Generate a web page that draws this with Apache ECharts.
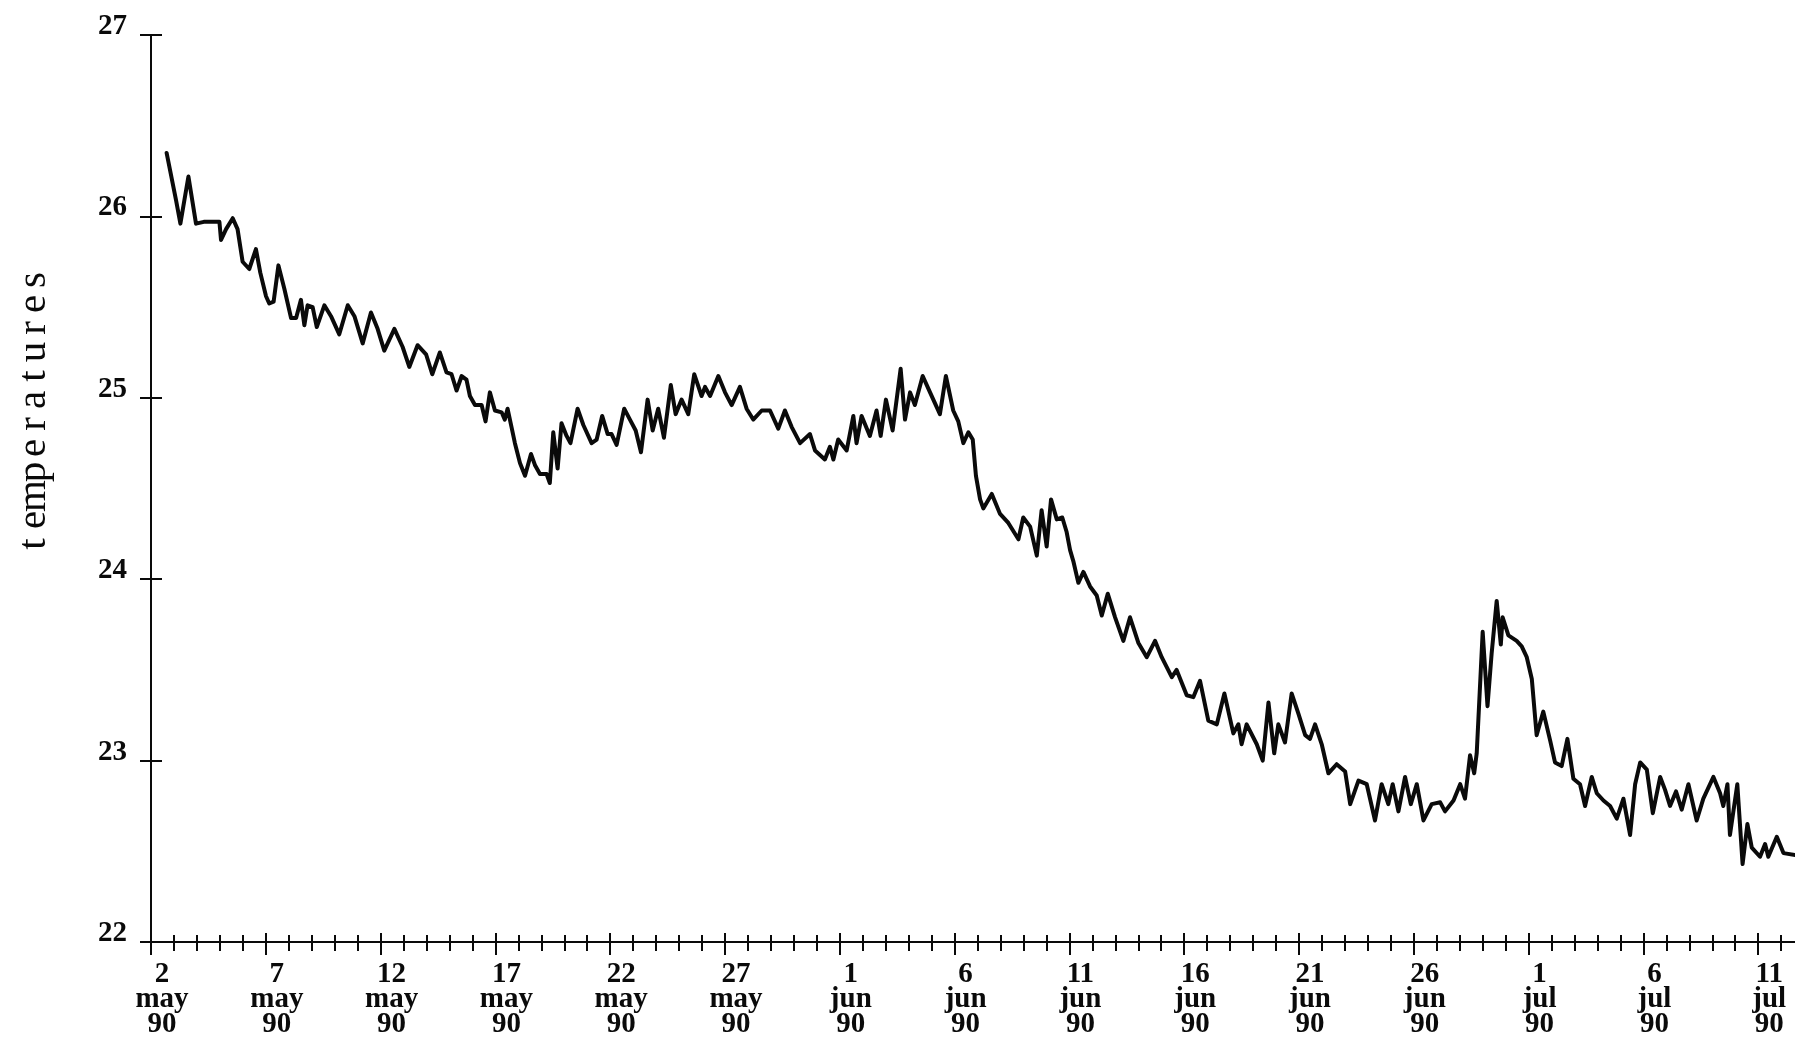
<!DOCTYPE html>
<html>
<head>
<meta charset="utf-8">
<script src="https://cdn.jsdelivr.net/npm/echarts@6/dist/echarts.min.js"></script>
<style>
  html, body { margin: 0; padding: 0; background: #fff; }
  #chart { width: 1795px; height: 1037px; }
</style>
</head>
<body>
<div id="chart"></div>
<script>
// Time is expressed in days since 2 May 1990, 00:00.
const mayDays = [0.68,1.09,1.28,1.63,1.96,2.30,2.65,2.98,3.05,3.27,3.56,3.77,3.99,4.28,4.57,4.76,5.01,5.15,5.34,5.55,5.81,6.10,6.32,6.53,6.68,6.82,7.04,7.22,7.55,7.84,8.20,8.57,8.86,9.22,9.58,9.87,10.16,10.60,10.96,11.25,11.61,11.98,12.25,12.58,12.87,13.09,13.31,13.53,13.74,13.89,14.11,14.40,14.57,14.76,14.98,15.27,15.41,15.53,15.70,15.85,16.07,16.29,16.55,16.72,16.94,17.23,17.37,17.52,17.71,17.88,18.10,18.27,18.58,18.83,19.19,19.41,19.65,19.89,20.06,20.28,20.61,20.86,21.11,21.34,21.63,21.85,22.09,22.34,22.64,22.85,23.11,23.40,23.66,23.98,24.13,24.35,24.71,25.00,25.29,25.65,25.94,26.23,26.60,26.96,27.32,27.61,27.90,28.27,28.70,28.92,29.35,29.57,29.72,29.93];
const mayTemps = [26.35,26.09,25.96,26.22,25.96,25.97,25.97,25.97,25.87,25.93,25.99,25.93,25.75,25.71,25.82,25.69,25.56,25.52,25.53,25.73,25.60,25.44,25.44,25.54,25.40,25.51,25.50,25.39,25.51,25.45,25.35,25.51,25.45,25.30,25.47,25.38,25.26,25.38,25.28,25.17,25.29,25.24,25.13,25.25,25.14,25.13,25.04,25.12,25.10,25.01,24.96,24.96,24.87,25.03,24.93,24.92,24.88,24.94,24.84,24.75,24.64,24.57,24.69,24.63,24.58,24.58,24.53,24.81,24.61,24.86,24.79,24.75,24.94,24.85,24.75,24.77,24.90,24.80,24.80,24.74,24.94,24.88,24.82,24.70,24.99,24.82,24.94,24.78,25.07,24.91,24.99,24.91,25.13,25.01,25.06,25.01,25.12,25.03,24.96,25.06,24.94,24.88,24.93,24.93,24.83,24.93,24.84,24.75,24.80,24.71,24.66,24.73,24.66,24.77];

const junDays = [30.30,30.59,30.73,30.95,31.31,31.60,31.78,32.01,32.30,32.65,32.84,33.06,33.27,33.61,33.93,34.36,34.62,34.94,35.16,35.38,35.60,35.79,35.93,36.11,36.25,36.62,36.98,37.34,37.78,37.99,38.29,38.58,38.79,39.01,39.20,39.45,39.69,39.88,40.03,40.17,40.39,40.61,40.90,41.19,41.41,41.67,41.99,42.35,42.64,43.00,43.37,43.73,44.02,44.46,44.67,45.11,45.40,45.69,46.05,46.42,46.75,47.14,47.36,47.50,47.72,48.16,48.42,48.67,48.92,49.10,49.39,49.68,49.97,50.27,50.48,50.70,50.99,51.28,51.64,52.01,52.23,52.59,52.95,53.31,53.60,53.89,54.08,54.33,54.62,54.87,55.13,55.42,55.78,56.15,56.36,56.73,57.02,57.23,57.45,57.63,57.74,58.00,58.21,58.39,58.61,58.79,58.87,59.12,59.48,59.70,59.92];
const junTemps = [24.71,24.90,24.75,24.90,24.79,24.93,24.79,24.99,24.82,25.16,24.88,25.03,24.96,25.12,25.03,24.91,25.12,24.93,24.87,24.75,24.81,24.77,24.57,24.44,24.39,24.47,24.36,24.31,24.22,24.34,24.29,24.13,24.38,24.18,24.44,24.33,24.34,24.26,24.16,24.10,23.98,24.04,23.96,23.91,23.80,23.92,23.79,23.66,23.79,23.65,23.57,23.66,23.57,23.46,23.50,23.36,23.35,23.44,23.22,23.20,23.37,23.15,23.20,23.09,23.20,23.09,23.00,23.32,23.04,23.20,23.10,23.37,23.26,23.14,23.12,23.20,23.09,22.93,22.98,22.94,22.76,22.89,22.87,22.67,22.87,22.76,22.87,22.72,22.91,22.76,22.87,22.67,22.76,22.77,22.72,22.78,22.87,22.79,23.03,22.93,23.04,23.71,23.30,23.59,23.88,23.64,23.79,23.69,23.66,23.63,23.57];

const julDays = [60.14,60.35,60.64,60.94,61.15,61.44,61.69,61.95,62.24,62.46,62.75,62.97,63.26,63.55,63.84,64.13,64.42,64.64,64.86,65.15,65.41,65.73,65.94,66.16,66.42,66.67,66.96,67.32,67.61,68.05,68.34,68.48,68.66,68.77,69.09,69.32,69.53,69.72,70.08,70.30,70.44,70.81,71.10,71.61];
const julTemps = [23.45,23.14,23.27,23.11,22.99,22.97,23.12,22.90,22.87,22.75,22.91,22.82,22.78,22.75,22.68,22.79,22.59,22.87,22.99,22.95,22.71,22.91,22.84,22.75,22.83,22.73,22.87,22.67,22.79,22.91,22.82,22.75,22.87,22.59,22.87,22.43,22.65,22.52,22.47,22.54,22.47,22.58,22.49,22.48];

// Date labels every 5 days along the time axis
const tickDayNums = ['2','7','12','17','22','27','1','6','11','16','21','26','1','6','11'];
const tickMonths  = ['may','may','may','may','may','may','jun','jun','jun','jun','jun','jun','jul','jul','jul'];
const tickYears   = ['90','90','90','90','90','90','90','90','90','90','90','90','90','90','90'];

const yTitle = 'temperatures';

const series = [];
[[mayDays, mayTemps], [junDays, junTemps], [julDays, julTemps]].forEach(([d, t]) => {
  for (let i = 0; i < d.length; i++) series.push([d[i], t[i]]);
});

const serif = "'Liberation Serif', 'DejaVu Serif', serif";
const ink = '#0a0a0a';

function dateLabel(v) {
  const i = Math.round(v / 5);
  if (Math.abs(v - i * 5) > 1e-6 || i >= tickDayNums.length) return '';
  return tickDayNums[i] + '\n' + tickMonths[i] + '\n' + tickYears[i];
}

const tickLine = { color: ink, width: 2 };

const chart = echarts.init(document.getElementById('chart'), null, { renderer: 'canvas' });
chart.setOption({
  animation: false,
  backgroundColor: '#ffffff',
  grid: {
    left: 151, top: 35, bottom: 95, right: -78,
    containLabel: false,
    outerBoundsMode: 'none'
  },
  xAxis: [{
    type: 'value', min: 0, max: 75, interval: 5, position: 'bottom',
    axisLine: { onZero: false, lineStyle: { color: ink, width: 2 } },
    axisTick: { show: true, length: 13, lineStyle: tickLine },
    minorTick: { show: true, splitNumber: 5, length: 9, lineStyle: tickLine },
    splitLine: { show: false },
    minorSplitLine: { show: false },
    axisLabel: {
      formatter: dateLabel,
      color: ink, fontFamily: serif, fontWeight: 'bold', fontSize: 29,
      lineHeight: 25, margin: 20, padding: [0, 0, 0, 22],
      showMinLabel: true, showMaxLabel: false
    }
  }, {
    type: 'value', min: 0, max: 75, interval: 5, position: 'bottom',
    axisLine: { show: false },
    axisTick: { show: true, inside: true, length: 9, lineStyle: tickLine },
    minorTick: { show: true, splitNumber: 5, length: 7, lineStyle: tickLine },
    axisLabel: { show: false },
    splitLine: { show: false }
  }],
  yAxis: [{
    type: 'value', min: 22, max: 27, interval: 1, position: 'left',
    axisLine: { show: true, onZero: false, lineStyle: { color: ink, width: 2 } },
    axisTick: { show: true, length: 11, lineStyle: tickLine },
    splitLine: { show: false },
    axisLabel: {
      color: ink, fontFamily: serif, fontWeight: 'bold', fontSize: 29,
      margin: 24, verticalAlign: 'bottom', lineHeight: 17
    }
  }, {
    type: 'value', min: 22, max: 27, interval: 1, position: 'left',
    axisLine: { show: false },
    axisTick: { show: true, inside: true, length: 11, lineStyle: tickLine },
    axisLabel: { show: false },
    splitLine: { show: false }
  }],
  graphic: [{
    type: 'text',
    x: 34, y: 412,
    rotation: Math.PI / 2,
    style: {
      text: yTitle.split('').map(ch => '{c|' + ch + '}').join(''),
      align: 'center', verticalAlign: 'middle',
      fill: ink,
      rich: {
        c: { width: 24, align: 'center', fontFamily: serif, fontSize: 41, fill: ink, color: ink }
      }
    }
  }],
  series: [{
    type: 'line',
    xAxisIndex: 0, yAxisIndex: 0,
    data: series,
    symbol: 'none',
    showSymbol: false,
    clip: true,
    lineStyle: { color: ink, width: 4, join: 'round', cap: 'round' }
  }]
});
</script>
</body>
</html>
